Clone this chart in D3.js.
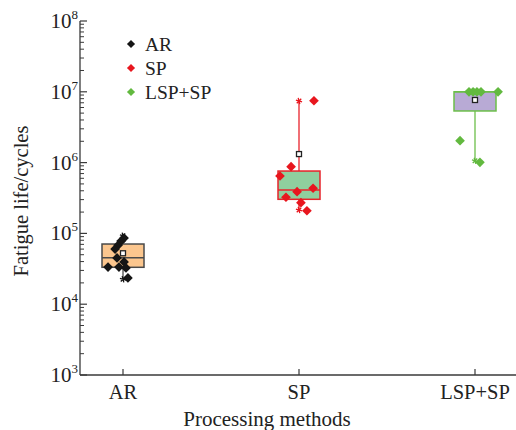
<!DOCTYPE html>
<html>
<head>
<meta charset="utf-8">
<script src="https://cdn.jsdelivr.net/npm/d3@7"></script>
<style>
body { margin: 0; background: #fff; }
text { font-family: "Liberation Serif", "Times New Roman", serif; fill: #222; }
</style>
</head>
<body>
<svg id="chart" width="516" height="430"></svg>
<script>
// categories and box statistics
var methods = ["AR", "SP", "LSP+SP"]
var boxMin = [22500, 214000, 1060000]
var boxQ1 = [33200, 303000, 5360000]
var boxMedian = [45400, 410000, 10000000]
var boxQ3 = [70800, 760000, 10000000]
var boxMax = [92700, 7410000, 10000000]
var boxMean = [52400, 1320000, 7660000]

// raw samples: [fatigue life, horizontal jitter in category units]
var arPoints = [[86000, 0.006], [78000, -0.011], [68000, -0.028], [60000, -0.045],
    [45000, -0.034], [39500, 0.006], [33500, -0.085], [33500, -0.023],
    [32500, 0.017], [23500, 0.028]]
var spPoints = [[7480000, 0.085], [875000, -0.045], [647000, -0.108], [388000, -0.011],
    [434000, 0.080], [324000, -0.074], [272000, 0.011], [209000, 0.045]]
var lspPoints = [[10000000, -0.034], [10000000, -0.011], [10000000, 0.011],
    [10000000, 0.034], [10000000, 0.131], [2040000, -0.085], [1010000, 0.028]]

var yTicks = [1e3, 1e4, 1e5, 1e6, 1e7, 1e8]

var boxFill = ["#fbc68e", "#8fcf9e", "#b8aad5"]
var boxStroke = ["#4a4a4a", "#e8232b", "#6cbf4a"]
var pointColor = ["#151515", "#e8161e", "#62b93f"]

var svg = d3.select("#chart")
var x0 = 80, x1 = 516, yTop = 21, yBot = 375

var x = d3.scaleLinear().domain([0, 2]).range([123, 475])
var y = d3.scaleLog().domain([1e3, 1e8]).range([yBot, yTop])

var axisColor = "#3a3a3a"

// y axis
var yAxis = svg.append("g")
yAxis.append("line")
    .attr("x1", x0).attr("x2", x0).attr("y1", yTop).attr("y2", yBot)
    .attr("stroke", axisColor).attr("stroke-width", 1.3)

var minor = []
for (var e = 3; e < 8; e++) {
    for (var m = 2; m <= 9; m++) minor.push(m * Math.pow(10, e))
}
yAxis.selectAll(".minor").data(minor).enter().append("line")
    .attr("x1", x0).attr("x2", x0 + 4)
    .attr("y1", function(d) { return y(d) }).attr("y2", function(d) { return y(d) })
    .attr("stroke", axisColor).attr("stroke-width", 1)
yAxis.selectAll(".major").data(yTicks).enter().append("line")
    .attr("x1", x0).attr("x2", x0 + 7)
    .attr("y1", function(d) { return y(d) }).attr("y2", function(d) { return y(d) })
    .attr("stroke", axisColor).attr("stroke-width", 1.2)

var yLab = yAxis.selectAll(".lab").data(yTicks).enter().append("text")
    .attr("x", 78)
    .attr("y", function(d) { return y(d) + 7 })
    .attr("text-anchor", "end")
    .attr("font-size", 21)
yLab.append("tspan").text("10")
yLab.append("tspan")
    .attr("font-size", 13)
    .attr("dy", -9)
    .text(function(d) { return Math.round(Math.log10(d)) })

svg.append("text")
    .attr("transform", "translate(28,201) rotate(-90)")
    .attr("text-anchor", "middle")
    .attr("font-size", 20.5)
    .text("Fatigue life/cycles")

// x axis
var xAxis = svg.append("g")
xAxis.append("line")
    .attr("x1", x0).attr("x2", x1).attr("y1", yBot).attr("y2", yBot)
    .attr("stroke", axisColor).attr("stroke-width", 1.3)
xAxis.selectAll(".tick").data(methods).enter().append("line")
    .attr("x1", function(d, i) { return x(i) }).attr("x2", function(d, i) { return x(i) })
    .attr("y1", yBot).attr("y2", yBot - 6)
    .attr("stroke", axisColor).attr("stroke-width", 1.2)
xAxis.selectAll(".lab").data(methods).enter().append("text")
    .attr("x", function(d, i) { return x(i) })
    .attr("y", 399)
    .attr("text-anchor", "middle")
    .attr("font-size", 20.5)
    .text(function(d) { return d })

svg.append("text")
    .attr("x", 267).attr("y", 426)
    .attr("text-anchor", "middle")
    .attr("font-size", 21)
    .text("Processing methods")

// boxes
var bw = 42
var boxes = svg.selectAll(".box").data(methods).enter().append("g")

boxes.append("line")
    .attr("x1", function(d, i) { return x(i) }).attr("x2", function(d, i) { return x(i) })
    .attr("y1", function(d, i) { return y(boxMax[i]) })
    .attr("y2", function(d, i) { return y(boxQ3[i]) })
    .attr("stroke", function(d, i) { return boxStroke[i] }).attr("stroke-width", 1.3)
boxes.append("line")
    .attr("x1", function(d, i) { return x(i) }).attr("x2", function(d, i) { return x(i) })
    .attr("y1", function(d, i) { return y(boxQ1[i]) })
    .attr("y2", function(d, i) { return y(boxMin[i]) })
    .attr("stroke", function(d, i) { return boxStroke[i] }).attr("stroke-width", 1.3)
boxes.append("rect")
    .attr("x", function(d, i) { return x(i) - bw / 2 })
    .attr("width", bw)
    .attr("y", function(d, i) { return y(boxQ3[i]) })
    .attr("height", function(d, i) { return y(boxQ1[i]) - y(boxQ3[i]) })
    .attr("fill", function(d, i) { return boxFill[i] })
    .attr("stroke", function(d, i) { return boxStroke[i] })
    .attr("stroke-width", 1.5)
boxes.append("line")
    .attr("x1", function(d, i) { return x(i) - bw / 2 })
    .attr("x2", function(d, i) { return x(i) + bw / 2 })
    .attr("y1", function(d, i) { return y(boxMedian[i]) })
    .attr("y2", function(d, i) { return y(boxMedian[i]) })
    .attr("stroke", function(d, i) { return boxStroke[i] }).attr("stroke-width", 1.5)

// mean squares
boxes.append("rect")
    .attr("x", function(d, i) { return x(i) - 2.5 })
    .attr("y", function(d, i) { return y(boxMean[i]) - 2.5 })
    .attr("width", 5).attr("height", 5)
    .attr("fill", "#fff").attr("stroke", "#222").attr("stroke-width", 1.3)

// min/max stars
var starSym = d3.symbol().type(d3.symbolAsterisk).size(28)
methods.forEach(function(m, i) {
    [boxMin[i], boxMax[i]].forEach(function(v) {
        svg.append("path")
            .attr("d", starSym())
            .attr("transform", "translate(" + x(i) + "," + y(v) + ") rotate(45)")
            .attr("fill", "none")
            .attr("stroke", pointColor[i])
            .attr("stroke-width", 1.3)
    })
})

// raw points
var dia = d3.symbol().type(d3.symbolDiamond2).size(60)
;[arPoints, spPoints, lspPoints].forEach(function(pts, i) {
    svg.append("g").selectAll("path").data(pts).enter().append("path")
        .attr("d", dia())
        .attr("transform", function(d) {
            return "translate(" + x(i + d[1]) + "," + y(d[0]) + ")"
        })
        .attr("fill", pointColor[i])
})

// legend
var legend = svg.append("g").selectAll("g").data(methods).enter().append("g")
    .attr("transform", function(d, i) { return "translate(131," + (44 + i * 24) + ")" })
legend.append("path")
    .attr("d", d3.symbol().type(d3.symbolDiamond2).size(42)())
    .attr("fill", function(d, i) { return pointColor[i] })
legend.append("text")
    .attr("x", 14).attr("y", 6.5)
    .attr("font-size", 19.5)
    .text(function(d) { return d })
</script>
</body>
</html>
